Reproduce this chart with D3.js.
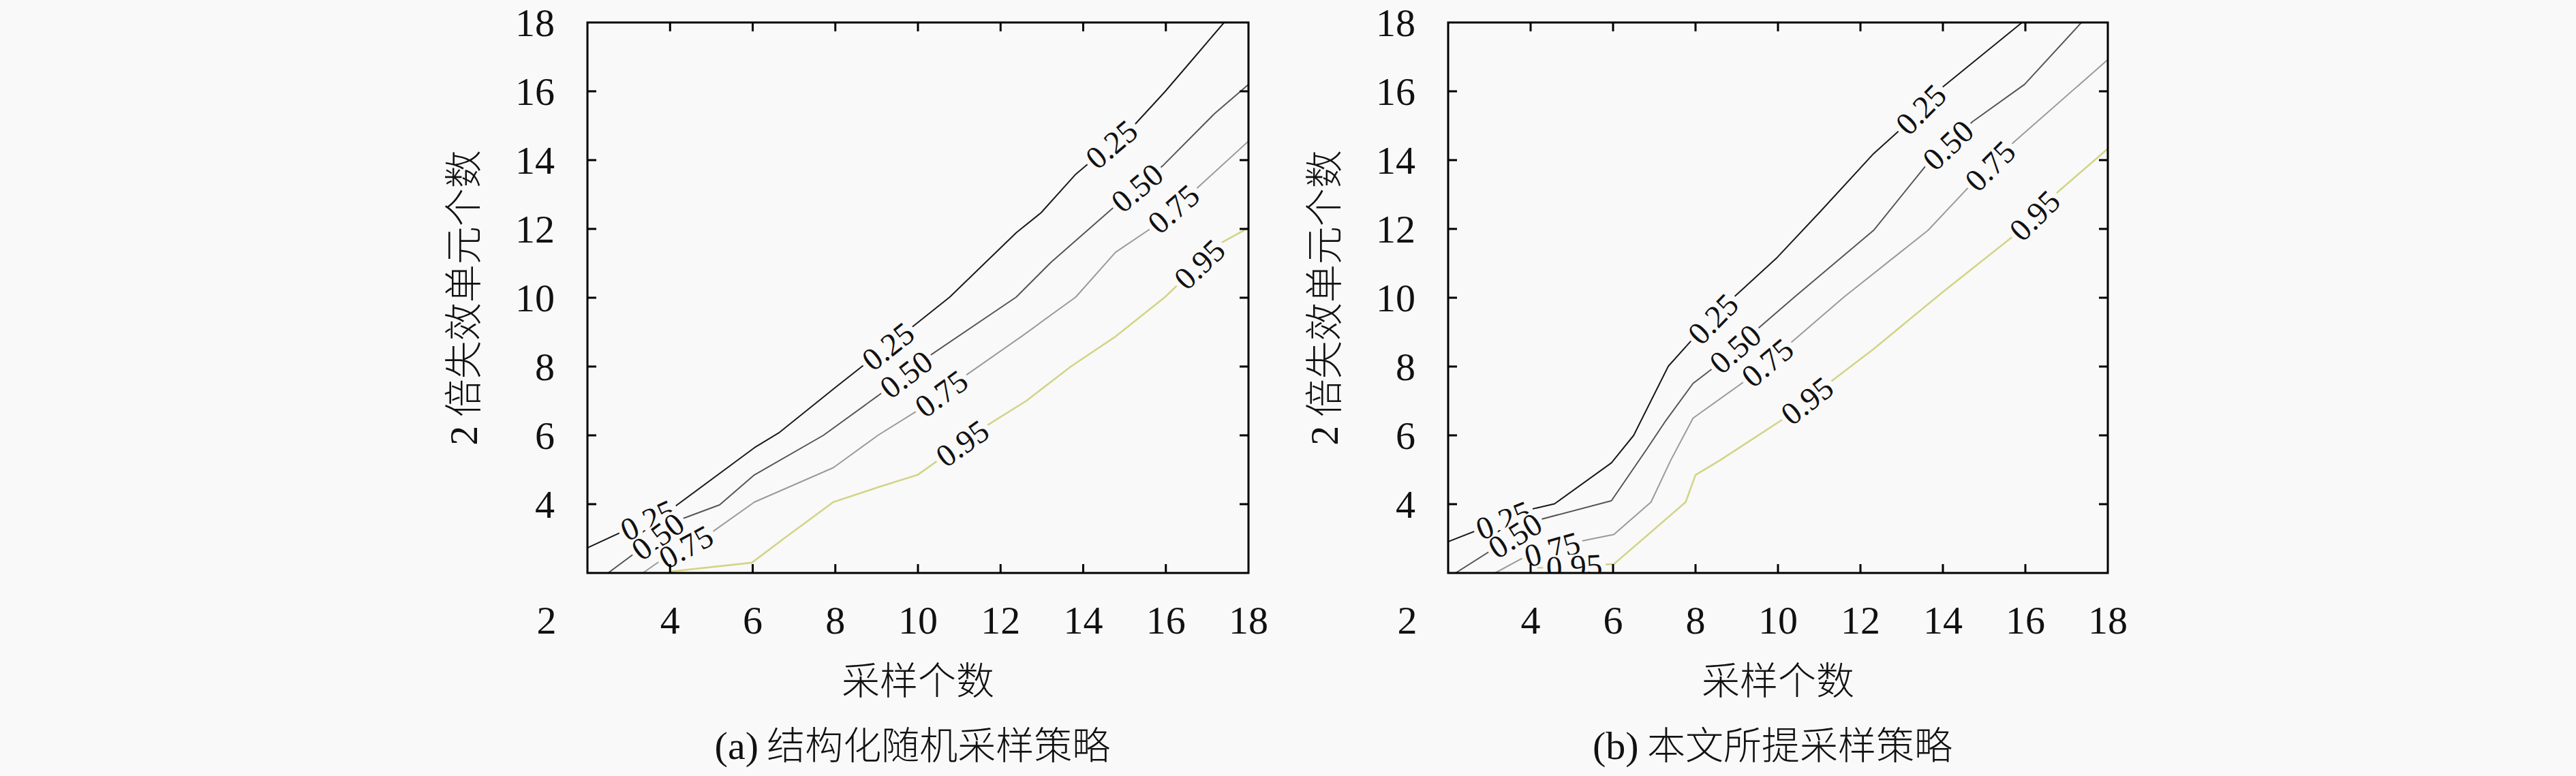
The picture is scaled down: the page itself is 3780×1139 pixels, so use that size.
<!DOCTYPE html>
<html>
<head>
<meta charset="utf-8">
<script src="https://cdn.jsdelivr.net/npm/d3@7"></script>
<style>
  html, body { margin: 0; padding: 0; background: #f9f9f9; }
  svg { display: block; }
</style>
</head>
<body>
<svg id="chart" width="3780" height="1139"></svg>
<script>
// ---------- data ----------
const xTickValues = [4, 6, 8, 10, 12, 14, 16, 18];
const yTickValues = [4, 6, 8, 10, 12, 14, 16, 18];
const cornerLabel = "2";
const levels = ["0.25", "0.50", "0.75", "0.95"];

// (a) structured random sampling – contour polylines [x, y]
const a25 = [[2,2.73],[4.05,3.87],[6.04,5.64],[6.63,6.07],[8,7.39],[9.87,9.16],[10.77,10.02],[12.38,11.89],[12.98,12.47],[13.82,13.59],[15.26,15.05],[15.98,15.99],[16.7,17.0],[17.41,18]];
const a50 = [[2.5,2],[4.24,3.55],[5.2,3.98],[6.04,4.85],[7.71,6.0],[9.03,7.15],[10.35,8.37],[12.38,10.02],[13.22,11.03],[14.72,12.61],[15.92,13.83],[17.17,15.34],[18,16.2]];
const a75 = [[3.34,2],[3.82,2.4],[5.02,3.19],[6.04,4.06],[7.95,5.06],[9.03,6.0],[9.99,6.72],[11.13,7.72],[12.5,8.87],[13.82,10.02],[14.78,11.32],[15.62,12.0],[16.75,13.18],[18,14.55]];
const a95 = [[4.0,2.04],[5.98,2.3],[6.81,3.05],[7.95,4.06],[9.03,4.49],[9.99,4.85],[10.4,5.2],[11.66,6.28],[12.62,7.0],[13.7,8.0],[14.78,8.87],[15.98,10.02],[17.35,11.6],[18,12.03]];
// label x-positions along each contour in (a)
const a25Labels = [3.46, 9.27, 14.68];
const a50Labels = [3.7, 9.71, 15.3];
const a75Labels = [4.38, 10.56, 16.18];
const a95Labels = [11.07, 16.81];

// (b) proposed sampling – contour polylines [x, y]
const b25 = [[2,2.91],[3.98,3.84],[4.58,4.01],[5.96,5.2],[6.5,6.0],[7.34,8.01],[7.88,8.73],[8.96,10.05],[9.98,11.17],[11.0,12.47],[12.32,14.19],[12.98,14.9],[14.0,16.13],[15.92,18]];
const b50 = [[2.18,2],[4.22,3.55],[5.96,4.1],[6.8,5.57],[7.28,6.43],[7.94,7.51],[8.41,7.94],[9.5,9.09],[10.4,10.02],[12.32,11.96],[13.58,13.83],[14.72,15.12],[15.98,16.2],[17.36,18]];
const b75 = [[3.14,2],[3.86,2.47],[5.12,2.9],[6.02,3.12],[6.92,4.06],[7.4,5.28],[7.94,6.5],[9.2,7.58],[10.28,8.66],[11.6,10.02],[13.64,11.96],[14.66,13.26],[15.68,14.48],[18,16.92]];
const b95 = [[4.16,2.15],[6.02,2.26],[6.92,3.19],[7.76,4.06],[8.0,4.85],[8.6,5.28],[10.16,6.5],[11.3,7.58],[12.32,8.51],[14.0,10.17],[15.74,11.82],[16.82,13.11],[18,14.33]];
const b25Labels = [3.34, 8.42, 13.46];
const b50Labels = [3.62, 8.96, 14.12];
const b75Labels = [4.52, 9.74, 15.14];
const b95Labels = [5.06, 10.7, 16.22];

const xTitle = "采样个数";
const yTitleNum = "2";
const yTitleText = " 倍失效单元个数";
const captionA = "(a) 结构化随机采样策略";
const captionB = "(b) 本文所提采样策略";

// ---------- styles ----------
const BG = "#f9f9f9";
const lineColors = ["#1a1a1a", "#555555", "#9a9a9a", "#d4d488"];
const lineWidths = [2, 2, 2, 2.6];
const SERIF = "'Liberation Serif', 'DejaVu Serif', serif";
const CJK = "'Noto Sans CJK SC', 'Noto Sans', sans-serif";

const svg = d3.select("#chart");
svg.append("rect").attr("width", 3780).attr("height", 1139).attr("fill", BG);

const panels = [
  { x0: 862, x1: 1832, curves: [a25, a50, a75, a95], labels: [a25Labels, a50Labels, a75Labels, a95Labels], caption: captionA },
  { x0: 2125, x1: 3093, curves: [b25, b50, b75, b95], labels: [b25Labels, b50Labels, b75Labels, b95Labels], caption: captionB }
];
const yTop = 33, yBot = 841;

function pointAt(curve, xv) {
  for (let i = 0; i < curve.length - 1; i++) {
    const p = curve[i], q = curve[i + 1];
    if (xv >= p[0] && xv <= q[0]) {
      const t = (xv - p[0]) / (q[0] - p[0]);
      return { pt: [xv, p[1] + t * (q[1] - p[1])], seg: [p, q] };
    }
  }
  const n = curve.length;
  return { pt: curve[n - 1], seg: [curve[n - 2], curve[n - 1]] };
}

panels.forEach((P, pi) => {
  const x = d3.scaleLinear().domain([2, 18]).range([P.x0, P.x1]);
  const y = d3.scaleLinear().domain([2, 18]).range([yBot, yTop]);
  const g = svg.append("g");
  const clipId = "clip" + pi;
  g.append("clipPath").attr("id", clipId).append("rect")
    .attr("x", P.x0).attr("y", yTop).attr("width", P.x1 - P.x0).attr("height", yBot - yTop);

  const plot = g.append("g").attr("clip-path", `url(#${clipId})`);
  const line = d3.line().x(d => x(d[0])).y(d => y(d[1]));

  P.curves.forEach((c, ci) => {
    plot.append("path").attr("d", line(c)).attr("fill", "none")
      .attr("stroke", lineColors[ci]).attr("stroke-width", lineWidths[ci])
      .attr("stroke-linejoin", "round");
  });

  // contour labels
  const fs = 47;
  P.curves.forEach((c, ci) => {
    P.labels[ci].forEach(lx => {
      const r = pointAt(c, lx);
      const px = x(r.pt[0]), py = y(r.pt[1]);
      const [p, q] = r.seg;
      const ang = Math.atan2(y(q[1]) - y(p[1]), x(q[0]) - x(p[0])) * 180 / Math.PI;
      const lg = plot.append("g").attr("transform", `translate(${px},${py}) rotate(${ang})`);
      lg.append("rect").attr("x", -46).attr("y", -17).attr("width", 92).attr("height", 34).attr("fill", BG);
      lg.append("text").attr("text-anchor", "middle").attr("dy", "0.35em")
        .attr("font-family", SERIF).attr("font-size", fs).attr("fill", "#111")
        .text(levels[ci]);
    });
  });

  // frame
  g.append("rect").attr("x", P.x0).attr("y", yTop).attr("width", P.x1 - P.x0).attr("height", yBot - yTop)
    .attr("fill", "none").attr("stroke", "#000").attr("stroke-width", 3);

  // ticks (inward on all sides)
  const tl = 13;
  const innerX = xTickValues.filter(v => v > 2 && v < 18);
  const innerY = yTickValues.filter(v => v > 2 && v < 18);
  innerX.forEach(v => {
    g.append("line").attr("x1", x(v)).attr("x2", x(v)).attr("y1", yBot).attr("y2", yBot - tl).attr("stroke", "#000").attr("stroke-width", 3);
    g.append("line").attr("x1", x(v)).attr("x2", x(v)).attr("y1", yTop).attr("y2", yTop + tl).attr("stroke", "#000").attr("stroke-width", 3);
  });
  innerY.forEach(v => {
    g.append("line").attr("x1", P.x0).attr("x2", P.x0 + tl).attr("y1", y(v)).attr("y2", y(v)).attr("stroke", "#000").attr("stroke-width", 3);
    g.append("line").attr("x1", P.x1).attr("x2", P.x1 - tl).attr("y1", y(v)).attr("y2", y(v)).attr("stroke", "#000").attr("stroke-width", 3);
  });

  // tick labels
  const tfs = 58;
  xTickValues.forEach(v => {
    g.append("text").attr("x", x(v)).attr("y", 930).attr("text-anchor", "middle")
      .attr("font-family", SERIF).attr("font-size", tfs).attr("fill", "#111").text(v);
  });
  yTickValues.forEach(v => {
    g.append("text").attr("x", P.x0 - 48).attr("y", y(v)).attr("dy", "0.34em").attr("text-anchor", "end")
      .attr("font-family", SERIF).attr("font-size", tfs).attr("fill", "#111").text(v);
  });
  g.append("text").attr("x", P.x0 - 60).attr("y", 930).attr("text-anchor", "middle")
    .attr("font-family", SERIF).attr("font-size", tfs).attr("fill", "#111").text(cornerLabel);

  // axis titles
  const cx = (P.x0 + P.x1) / 2;
  g.append("text").attr("x", cx).attr("y", 1019).attr("text-anchor", "middle")
    .attr("font-family", CJK).attr("font-size", 56).attr("font-weight", 300).attr("fill", "#111").text(xTitle);
  const yt = g.append("text").attr("transform", `translate(${P.x0 - 168},${(yTop + yBot) / 2}) rotate(-90)`)
    .attr("text-anchor", "middle").attr("dy", "0.36em").attr("fill", "#111");
  yt.append("tspan").attr("font-family", SERIF).attr("font-size", 58).text(yTitleNum);
  yt.append("tspan").attr("font-family", CJK).attr("font-size", 56).attr("font-weight", 300).text(yTitleText);

  // caption
  const cap = g.append("text").attr("x", cx - 8).attr("y", 1114).attr("text-anchor", "middle").attr("fill", "#111");
  const m = P.caption.match(/^(\(\w\))(.*)$/);
  cap.append("tspan").attr("font-family", SERIF).attr("font-size", 58).text(m[1]);
  cap.append("tspan").attr("font-family", CJK).attr("font-size", 56).attr("font-weight", 300).text(m[2]);
});
</script>
</body>
</html>
